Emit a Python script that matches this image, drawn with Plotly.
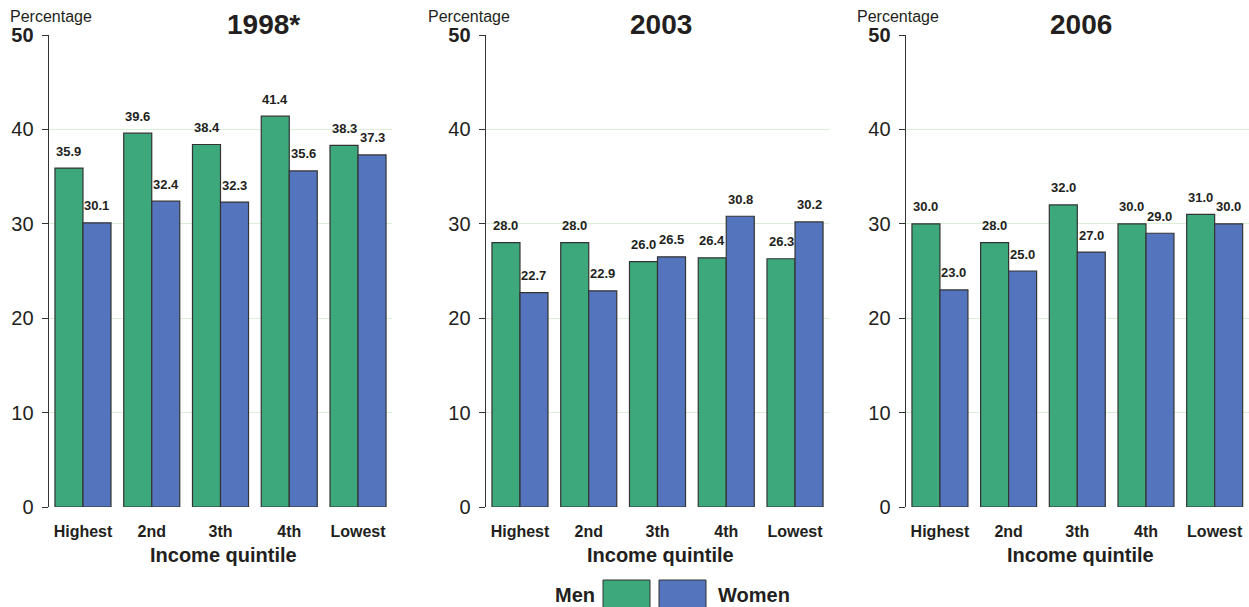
import plotly.graph_objects as go

# Income quintile categories and percentages by sex for each survey year
quintiles = ["Highest", "2nd", "3th", "4th", "Lowest"]
years = ["1998*", "2003", "2006"]
men_1998 = [35.9, 39.6, 38.4, 41.4, 38.3]
women_1998 = [30.1, 32.4, 32.3, 35.6, 37.3]
men_2003 = [28.0, 28.0, 26.0, 26.4, 26.3]
women_2003 = [22.7, 22.9, 26.5, 30.8, 30.2]
men_2006 = [30.0, 28.0, 32.0, 30.0, 31.0]
women_2006 = [23.0, 25.0, 27.0, 29.0, 30.0]
y_ticks = [0, 10, 20, 30, 40, 50]
y_tick_text = ["0", "10", "20", "30", "40", "<b>50</b>"]

series = [(men_1998, women_1998), (men_2003, women_2003), (men_2006, women_2006)]

W, H = 1249, 607
GREEN = "#3da87b"
BLUE = "#5475bd"
EDGE = "#333333"
TXT = "#231f20"
GRID = "#dcefd6"
FONT = "Liberation Sans, Arial, sans-serif"

# panel horizontal extents in pixels, plus text anchor positions per panel
panels_px = [(48.6, 392.4), (485.6, 829.4), (905.6, 1249.0)]
title_x = [263.5, 661, 1081]
caption_x = [8, 426, 855]
xtitle_x = [223, 661, 1080]
y_dom = [(H - 507) / H, (H - 35) / H]

fig = go.Figure()
annotations = []


def paper_text(x, y, text, size, xanchor="center"):
    return dict(x=x / W, y=(H - y) / H, xref="paper", yref="paper", text=text,
                showarrow=False, xanchor=xanchor, yanchor="middle",
                font=dict(family=FONT, size=size, color=TXT))


for i, ((men, women), year, (x0, x1)) in enumerate(zip(series, years, panels_px)):
    n = "" if i == 0 else str(i + 1)
    xa, ya = "x" + n, "y" + n
    fig.add_trace(go.Bar(x=quintiles, y=men, name="Men", marker_color=GREEN,
                         marker_line_color=EDGE, marker_line_width=1.2,
                         xaxis=xa, yaxis=ya, showlegend=False))
    fig.add_trace(go.Bar(x=quintiles, y=women, name="Women", marker_color=BLUE,
                         marker_line_color=EDGE, marker_line_width=1.2,
                         xaxis=xa, yaxis=ya, showlegend=False))
    dom = [x0 / W, min(x1 / W, 1.0)]
    fig.layout["xaxis" + n] = dict(
        domain=dom, anchor=ya, type="category", range=[-0.5, 4.5],
        automargin=False,
        showgrid=False, showline=False, zeroline=False, ticks="",
        tickfont=dict(family=FONT, size=16, color=TXT, weight="bold"),
        ticklabelstandoff=13,
    )
    fig.layout["yaxis" + n] = dict(
        domain=y_dom, anchor=xa, range=[0, 50], automargin=False,
        tickvals=y_ticks, ticktext=y_tick_text,
        tickfont=dict(family=FONT, size=20, color=TXT),
        showgrid=True, gridcolor=GRID, gridwidth=1,
        zeroline=False, showline=True, linecolor=EDGE, linewidth=1,
        ticks="outside", ticklen=6, tickcolor=EDGE, ticklabelstandoff=4,
    )
    # value labels above each bar
    for vals, shift in ((men, -14), (women, 14)):
        for q, v in zip(quintiles, vals):
            annotations.append(dict(
                x=q, y=v, xref=xa, yref=ya, text=f"<b>{v:.1f}</b>",
                showarrow=False, xshift=shift, yshift=17, xanchor="center",
                yanchor="middle", font=dict(family=FONT, size=13, color=TXT)))
    # panel title, y-axis caption and x-axis title
    annotations.append(paper_text(title_x[i], 25, f"<b>{year}</b>", 28))
    annotations.append(paper_text(caption_x[i], 17, "Percentage", 16, xanchor="left"))
    annotations.append(paper_text(xtitle_x[i], 555, "<b>Income quintile</b>", 20))

# legend drawn as boxes with side labels
shapes = [
    dict(type="rect", xref="paper", yref="paper", x0=603 / W, x1=650 / W,
         y0=-0.02, y1=(H - 580) / H, fillcolor=GREEN, line=dict(color=EDGE, width=1)),
    dict(type="rect", xref="paper", yref="paper", x0=659 / W, x1=706 / W,
         y0=-0.02, y1=(H - 580) / H, fillcolor=BLUE, line=dict(color=EDGE, width=1)),
]
annotations.append(paper_text(597, 595, "<b>Men</b>", 20, xanchor="right"))
annotations.append(paper_text(716, 595, "<b>Women</b>", 20, xanchor="left"))

fig.update_layout(
    width=W, height=H, margin=dict(l=0, r=0, t=0, b=0),
    barmode="group", bargap=0.185, bargroupgap=0,
    plot_bgcolor="white", paper_bgcolor="white",
    font=dict(family=FONT, color=TXT),
    annotations=annotations, shapes=shapes, showlegend=False,
)

fig.write_html("out.html")
